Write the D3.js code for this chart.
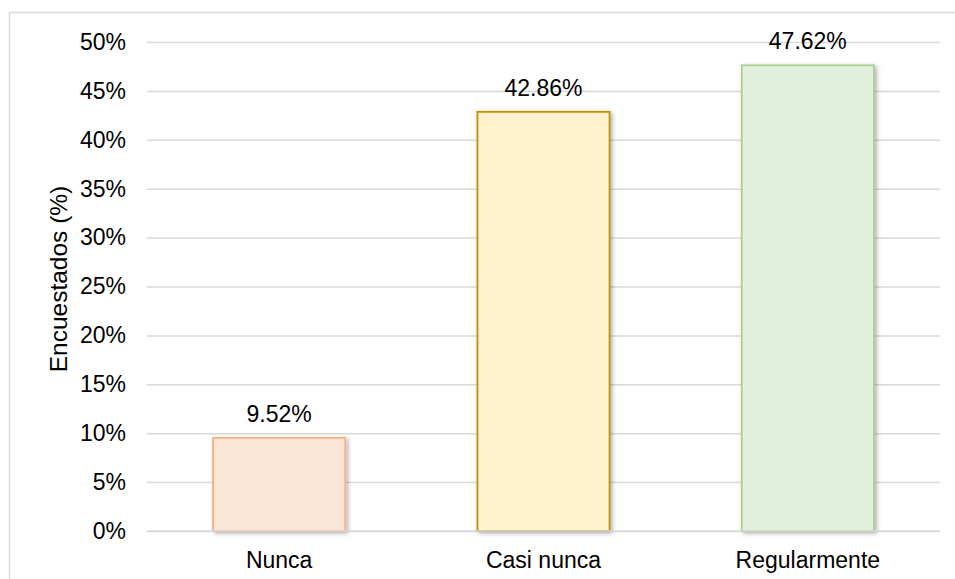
<!DOCTYPE html>
<html>
<head>
<meta charset="utf-8">
<script src="https://cdn.jsdelivr.net/npm/d3@7"></script>
<style>
  html, body { margin: 0; padding: 0; background: #fff; }
  svg { display: block; }
  text { font-family: "Liberation Sans", Arial, sans-serif; fill: #000; }
</style>
</head>
<body>
<svg id="chart" width="955" height="579"></svg>
<script>
// Survey responses (share of respondents, %)
const categories = ["Nunca", "Casi nunca", "Regularmente"];
const values = [9.52, 42.86, 47.62];
const fills = ["#fbe5d6", "#fff2cc", "#e2efda"];
const strokes = ["#f4b183", "#bf9000", "#a9d18e"];
const yTicks = [0, 5, 10, 15, 20, 25, 30, 35, 40, 45, 50];

const svg = d3.select("#chart");
const W = 955, H = 579;
const plot = { left: 147, right: 940, top: 42, bottom: 531 };

// Outer chart frame
svg.append("rect")
  .attr("x", 9.5).attr("y", 12.5)
  .attr("width", W + 10).attr("height", H + 10)
  .attr("fill", "none").attr("stroke", "#d9d9d9").attr("stroke-width", 1.5);

const defs = svg.append("defs");
const shadow = defs.append("filter").attr("id", "barShadow")
  .attr("x", "-10%").attr("y", "-10%").attr("width", "130%").attr("height", "130%");
shadow.append("feDropShadow")
  .attr("dx", 2).attr("dy", 1.5).attr("stdDeviation", 2)
  .attr("flood-color", "#000").attr("flood-opacity", 0.3);

const x = d3.scaleBand().domain(categories).range([plot.left, plot.right]).paddingInner(0.5).paddingOuter(0.25);
const y = d3.scaleLinear().domain([0, 50]).range([plot.bottom, plot.top]);

// Horizontal gridlines and y tick labels
const yAxis = d3.axisLeft(y).tickValues(yTicks)
  .tickFormat(d => d + "%")
  .tickSize(-(plot.right - plot.left)).tickPadding(21);
const gy = svg.append("g").attr("transform", `translate(${plot.left},0)`).call(yAxis);
gy.select(".domain").remove();
gy.selectAll(".tick line").attr("stroke", "#d9d9d9").attr("stroke-width", 1.5);
gy.selectAll(".tick text").attr("font-size", 23).attr("fill", "#000")
  .attr("font-family", '"Liberation Sans", Arial, sans-serif');

// Bars
const data = categories.map((c, i) => ({ c, v: values[i], fill: fills[i], stroke: strokes[i] }));
svg.append("g").selectAll("rect").data(data).join("rect")
  .attr("x", d => x(d.c))
  .attr("y", d => y(d.v))
  .attr("width", x.bandwidth())
  .attr("height", d => y(0) - y(d.v))
  .attr("fill", d => d.fill)
  .attr("stroke", d => d.stroke)
  .attr("stroke-width", 1.8)
  .attr("filter", "url(#barShadow)");

// Baseline redrawn above the bars
svg.append("line")
  .attr("x1", plot.left).attr("x2", plot.right)
  .attr("y1", y(0)).attr("y2", y(0))
  .attr("stroke", "#d9d9d9").attr("stroke-width", 1.5);

// Value labels
svg.append("g").selectAll("text").data(data).join("text")
  .attr("x", d => x(d.c) + x.bandwidth() / 2)
  .attr("y", d => y(d.v) - 16)
  .attr("text-anchor", "middle")
  .attr("font-size", 23)
  .text(d => d.v.toFixed(2) + "%");

// Category labels
svg.append("g").selectAll("text").data(categories).join("text")
  .attr("x", d => x(d) + x.bandwidth() / 2)
  .attr("y", 568)
  .attr("text-anchor", "middle")
  .attr("font-size", 23)
  .text(d => d);

// Y axis title
svg.append("text")
  .attr("transform", "translate(67,279) rotate(-90)")
  .attr("text-anchor", "middle")
  .attr("font-size", 24.5)
  .text("Encuestados (%)");
</script>
</body>
</html>
